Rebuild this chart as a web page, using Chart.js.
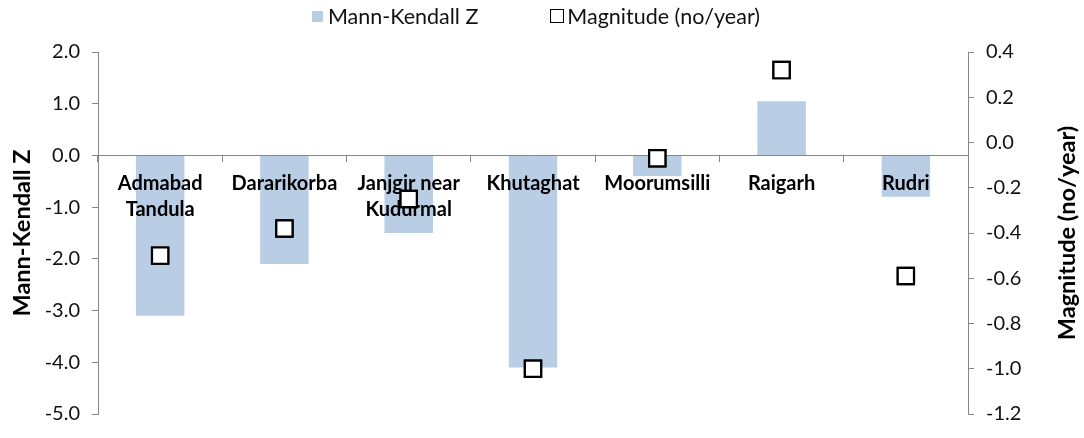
<!DOCTYPE html>
<html>
<head>
<meta charset="utf-8">
<script src="https://cdn.jsdelivr.net/npm/chart.js@4.4.1/dist/chart.umd.min.js"></script>
<style>
  body { margin: 0; background: #fff; }
  #wrap { position: relative; width: 1084px; height: 438px; }
  #legend { position: absolute; top: 3px; left: -6px; width: 1084px; display: flex; justify-content: center; align-items: center; font: 21.5px Lato, sans-serif; color: #111; }
  .item { display: flex; align-items: center; }
  .box1 { width: 11px; height: 11px; background: #b9cde5; margin-right: 5px; }
  .box2 { width: 12px; height: 12px; border: 1.6px solid #000; background: #fff; margin-right: 3px; margin-left: 72px; }
</style>
</head>
<body>
<div id="wrap">
  <canvas id="myChart" width="1084" height="438"></canvas>
  <div id="legend">
    <div class="item"><span class="box1"></span>Mann-Kendall Z</div>
    <div class="item"><span class="box2"></span>Magnitude (no/year)</div>
  </div>
</div>
<script>
const stations = [['Admabad', 'Tandula'], 'Dararikorba', ['Janjgir near', 'Kudurmal'], 'Khutaghat', 'Moorumsilli', 'Raigarh', 'Rudri']
const mannKendallZ = [-3.1, -2.1, -1.5, -4.1, -0.4, 1.05, -0.8]
const magnitude = [-0.5, -0.38, -0.25, -1.0, -0.07, 0.32, -0.59]

const barColor = 'rgba(185, 205, 229, 1)'
const axisColor = '#868686'

// right title reads bottom-up, chart.js would rotate it the other way
// also puts the squares back on top of the station names
const rightTitle = {
   id: 'rightTitle',
   afterDraw(chart) {
      const c = chart.ctx
      chart.getDatasetMeta(1).controller.draw()
      c.save()
      c.translate(1067, (chart.chartArea.top + chart.chartArea.bottom) / 2)
      c.rotate(-Math.PI / 2)
      c.font = 'bold 23.5px Lato'
      c.fillStyle = '#000'
      c.textAlign = 'center'
      c.textBaseline = 'middle'
      c.fillText('Magnitude (no/year)', 0, 0)
      c.restore()
   }
}

const ctx = document.getElementById('myChart')

const myChart = new Chart(ctx, {
   type: 'bar',
   data: {
      labels: stations,
      datasets: [{
         label: 'Mann-Kendall Z',
         data: mannKendallZ,
         backgroundColor: barColor,
         barPercentage: 0.39,
         categoryPercentage: 1,
         yAxisID: 'y',
         order: 2
      }, {
         type: 'line',
         label: 'Magnitude (no/year)',
         data: magnitude,
         showLine: false,
         pointStyle: 'rect',
         pointRadius: 11.5,
         pointHoverRadius: 11.5,
         pointBackgroundColor: '#fff',
         pointBorderColor: '#000',
         pointBorderWidth: 2.2,
         yAxisID: 'y1',
         order: 1
      }]
   },
   options: {
      responsive: false,
      animation: false,
      layout: { padding: { top: 52, bottom: 21 } },
      plugins: { legend: { display: false }, tooltip: { enabled: false } },
      scales: {
         x: {
            position: { y: 0 },
            grid: { drawOnChartArea: false, color: axisColor, tickLength: 6, offset: true },
            border: { color: axisColor, z: 1 },
            ticks: { z: 1, color: '#000', font: { family: 'Lato', size: 20, weight: 'bold', lineHeight: 1.3 }, padding: 9, maxRotation: 0, autoSkip: false }
         },
         y: {
            position: 'left',
            min: -5,
            max: 2,
            afterFit(scale) { scale.width = 98 },
            grid: { drawOnChartArea: false, color: axisColor, tickLength: 6 },
            border: { color: axisColor },
            ticks: { stepSize: 1, color: '#111', font: { family: 'Lato', size: 20 }, padding: 12, callback: v => v.toFixed(1) },
            title: { display: true, text: 'Mann-Kendall Z', color: '#000', font: { family: 'Lato', size: 23.5, weight: 'bold' }, padding: { top: 8, bottom: 0 } }
         },
         y1: {
            position: 'right',
            min: -1.2,
            max: 0.4,
            afterFit(scale) { scale.width = 116 },
            grid: { drawOnChartArea: false, color: axisColor, tickLength: 6 },
            border: { color: axisColor },
            ticks: { stepSize: 0.2, color: '#111', font: { family: 'Lato', size: 20 }, padding: 12, callback: v => v.toFixed(1) }
         }
      }
   },
   plugins: [rightTitle]
})
</script>
</body>
</html>
